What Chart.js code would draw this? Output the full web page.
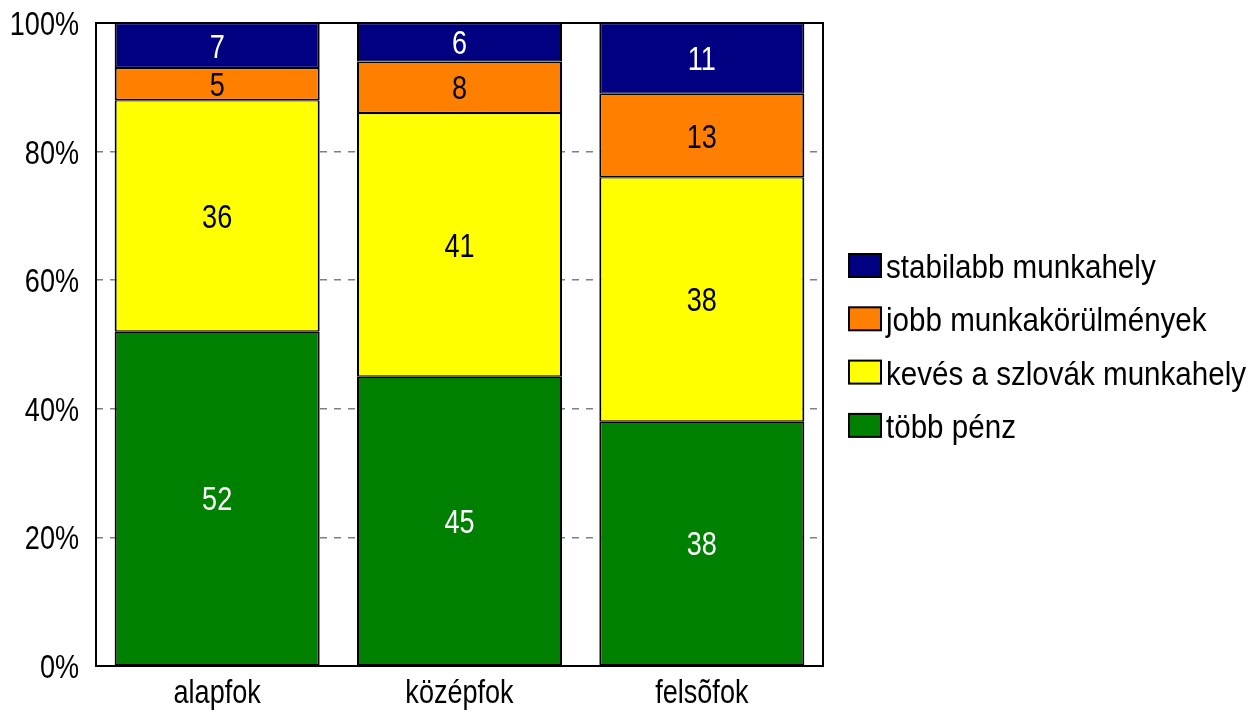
<!DOCTYPE html>
<html>
<head>
<meta charset="utf-8">
<script src="https://cdn.jsdelivr.net/npm/chart.js@4.4.1/dist/chart.umd.min.js"></script>
<style>
  html, body { margin: 0; padding: 0; background: #fff; }
  #wrap { width: 1253px; height: 716px; }
</style>
</head>
<body>
<div id="wrap"><canvas id="chart" width="1253" height="716"></canvas></div>
<script>
const categories = ['alapfok', 'középfok', 'felsõfok'];
const seriesNames = ['több pénz', 'kevés a szlovák munkahely', 'jobb munkakörülmények', 'stabilabb munkahely'];
const tobbPenz = [52, 45, 38];
const kevesMunkahely = [36, 41, 38];
const jobbKorulmenyek = [5, 8, 13];
const stabilabbMunkahely = [7, 6, 11];
const seriesColors = ['#008000', '#FFFF00', '#FF8000', '#000080'];
const labelColors = ['#FFFFFF', '#000000', '#000000', '#FFFFFF'];
const yTickValues = [0, 20, 40, 60, 80, 100];

const FONT = "'Liberation Sans', Arial, sans-serif";
const NARROW = 0.82; // the original uses a narrow face, squeeze Liberation Sans to match

// draw horizontally squeezed text
function narrowText(ctx, text, x, y, align, size, color, sx) {
    ctx.save();
    ctx.font = `${size}px ${FONT}`;
    ctx.textAlign = align;
    ctx.textBaseline = 'alphabetic';
    ctx.fillStyle = color;
    ctx.translate(x, y);
    ctx.scale(sx || NARROW, 1);
    ctx.fillText(text, 0, 0);
    ctx.restore();
}

// axis labels, placed from the chart's own scales
const axisLabels = {
    id: 'axisLabels',
    afterDraw(chart) {
        const ctx = chart.ctx;
        const y = chart.scales.y;
        const x = chart.scales.x;
        yTickValues.forEach(v => {
            narrowText(ctx, v + '%', chart.chartArea.left - 17, y.getPixelForValue(v) + 12, 'right', 33, '#000');
        });
        categories.forEach((c, i) => {
            narrowText(ctx, c, x.getPixelForValue(i), chart.chartArea.bottom + 37, 'center', 33, '#000');
        });
    }
};

// value labels in the middle of each segment
const segmentLabels = {
    id: 'segmentLabels',
    afterDatasetsDraw(chart) {
        const ctx = chart.ctx;
        chart.data.datasets.forEach((ds, i) => {
            const meta = chart.getDatasetMeta(i);
            meta.data.forEach((bar, j) => {
                const p = bar.getProps(['x', 'y', 'base'], true);
                narrowText(ctx, String(ds.data[j]), p.x, (p.y + p.base) / 2 + 12, 'center', 33, labelColors[i]);
            });
        });
    }
};

// black frame around the plot area
const plotFrame = {
    id: 'plotFrame',
    afterDatasetsDraw(chart) {
        const a = chart.chartArea;
        const ctx = chart.ctx;
        ctx.save();
        ctx.strokeStyle = '#000';
        ctx.lineWidth = 2;
        ctx.strokeRect(a.left, a.top, a.right - a.left, a.bottom - a.top);
        ctx.restore();
    }
};

// legend on the right, top series first
const sideLegend = {
    id: 'sideLegend',
    afterDraw(chart) {
        const a = chart.chartArea;
        const ctx = chart.ctx;
        const spacing = 53.3;
        const first = a.top + 242.5;
        const items = chart.data.datasets.map(ds => ({ text: ds.label, color: ds.backgroundColor })).reverse();
        items.forEach((it, k) => {
            const cy = first + k * spacing;
            ctx.save();
            ctx.fillStyle = it.color;
            ctx.fillRect(849, cy - 11.5, 32, 23);
            ctx.strokeStyle = '#000';
            ctx.lineWidth = 2;
            ctx.strokeRect(849, cy - 11.5, 32, 23);
            ctx.restore();
            narrowText(ctx, it.text, 886, cy + 12.5, 'left', 34, '#000', 0.87);
        });
    }
};

const seriesData = [tobbPenz, kevesMunkahely, jobbKorulmenyek, stabilabbMunkahely];

const chartConfig = {
    type: 'bar',
    data: {
        labels: categories,
        datasets: seriesData.map((d, i) => ({
            label: seriesNames[i],
            data: d,
            backgroundColor: seriesColors[i],
            borderColor: '#000',
            borderWidth: { left: 2, right: 2, top: 1.3, bottom: 1.3 },
            borderSkipped: false,
            barPercentage: 0.846,
            categoryPercentage: 1
        }))
    },
    options: {
        responsive: false,
        animation: false,
        layout: { padding: { top: 23, right: 430, left: 0, bottom: 0 } },
        scales: {
            x: {
                stacked: true,
                grid: { display: false },
                border: { display: false },
                ticks: { display: false },
                afterFit(scale) { scale.height = 50; }
            },
            y: {
                stacked: true,
                min: 0,
                max: 100,
                afterBuildTicks(scale) { scale.ticks = yTickValues.map(v => ({ value: v })); },
                grid: { color: '#808080', lineWidth: 1.5, drawTicks: false },
                border: { display: false, dash: [7, 7] },
                ticks: { display: false },
                afterFit(scale) { scale.width = 96; }
            }
        },
        plugins: {
            legend: { display: false },
            tooltip: { enabled: false }
        }
    },
    plugins: [segmentLabels, plotFrame, axisLabels, sideLegend]
};

new Chart(document.getElementById('chart').getContext('2d'), chartConfig);
</script>
</body>
</html>
